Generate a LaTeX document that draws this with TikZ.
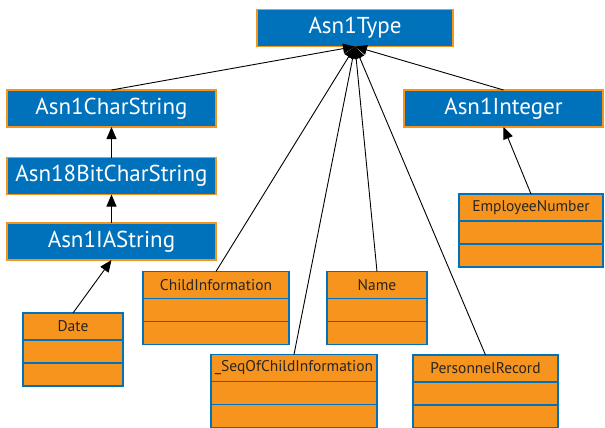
\documentclass[tikz,border=0pt]{standalone}
\usepackage{fontspec}
\setmainfont{PT Sans}
\usetikzlibrary{arrows.meta}
\usetikzlibrary{positioning}

\definecolor{asnblue}{HTML}{0072BC}
\definecolor{asnorange}{HTML}{F7941D}

\begin{document}
\begin{tikzpicture}[x=1pt, y=-1pt,
  base/.style={draw=asnorange, fill=asnblue, text=white, line width=1.8pt, minimum height=37pt, inner sep=0pt, outer sep=0pt, font=\fontsize{23}{26}\selectfont},
  head/.style={draw=asnblue, fill=asnorange, text=black!85, line width=1.8pt, minimum height=27pt, inner sep=0pt, outer sep=0pt, font=\fontsize{15.5}{18}\selectfont},
  row/.style={draw=asnblue, fill=asnorange, line width=1.8pt, minimum height=23pt, inner sep=0pt, outer sep=0pt},
  inherit/.style={-{Triangle[length=12pt,width=10pt]}, line width=0.9pt}]
\useasboundingbox (0,0) rectangle (605,428);

% base types
\node[base, minimum width=196pt] (type) at (355,28) {Asn1Type};
\node[base, minimum width=209pt] (charstr) at (111.5,108.5) {Asn1CharString};
\node[base, minimum width=209pt] (bitstr) at (111.5,176) {Asn18BitCharString};
\node[base, minimum width=209pt] (iastr) at (111.5,241.5) {Asn1IAString};
\node[base, minimum width=199pt] (integer) at (503.5,108.5) {Asn1Integer};

% generated classes
\foreach \cls/\txt/\x/\y/\w in {employee/EmployeeNumber/531/207.5/144,
    date/Date/73/326.5/100, childinfo/ChildInformation/216/285/146,
    name/Name/377/285/100, seqof/\_SeqOfChildInformation/294/368/166,
    personnel/PersonnelRecord/485.5/368.5/145}{
  \node[head, minimum width=\w pt] (\cls) at (\x,\y) {\txt};
  \node[row, minimum width=\w pt, below=0pt of \cls] (\cls-a) {};
  \node[row, minimum width=\w pt, below=0pt of \cls-a] (\cls-b) {};
}

% inheritance
\foreach \src in {charstr, integer, childinfo, name, seqof, personnel}
  \draw[inherit] (\src.north) -- (type.south);
\draw[inherit] (bitstr.north) -- (charstr.south);
\draw[inherit] (iastr.north) -- (bitstr.south);
\draw[inherit] (date.north) -- (iastr.south);
\draw[inherit] (employee.north) -- (integer.south);
\end{tikzpicture}
\end{document}
